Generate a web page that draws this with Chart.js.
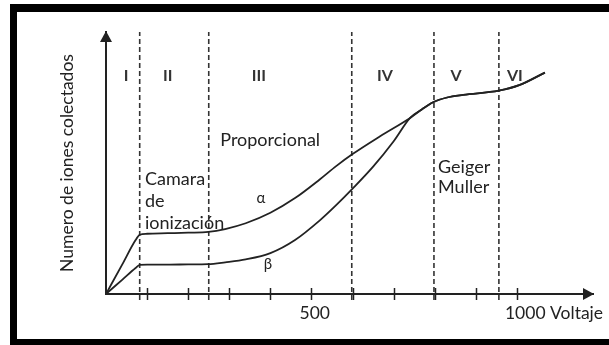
<!DOCTYPE html>
<html>
<head>
<meta charset="utf-8">
<script src="https://cdn.jsdelivr.net/npm/chart.js@4/dist/chart.umd.min.js"></script>
<style>
  html, body { margin: 0; padding: 0; background: #fff; }
  canvas { display: block; }
</style>
</head>
<body>
<canvas id="c" width="609" height="345"></canvas>
<script>
// Voltage (V) and collected-ion counts (relative units) for alpha particles
const alphaVoltage = [0, 40, 72, 82, 100, 150, 200, 249, 290, 340, 400, 460, 520, 560, 600, 667, 740, 770, 796, 830, 869, 956, 1007, 1068];
const alphaIons    = [0, 11.4, 20.6, 22.6, 23.0, 23.2, 23.4, 23.7, 24.8, 27.0, 31.0, 36.6, 43.7, 48.8, 53.4, 60.2, 67.2, 70.6, 73.2, 75.0, 76.0, 77.6, 79.8, 84.5];

// Same for beta particles; both curves merge in the Geiger region
const betaVoltage = [0, 40, 72, 82, 100, 150, 200, 248, 290, 340, 400, 460, 521, 560, 600, 650, 700, 740, 770, 796, 830, 869, 956, 1007, 1068];
const betaIons    = [0, 5.5, 9.9, 11.1, 11.2, 11.2, 11.3, 11.4, 12.1, 13.2, 15.6, 20.6, 28.2, 33.9, 40.2, 48.6, 58.3, 67.2, 70.6, 73.2, 75.0, 76.0, 77.6, 79.8, 84.5];

// Voltages separating the six operating regions
const regionBoundaries = [82, 250, 598, 798, 956];
const regionNames = ['I', 'II', 'III', 'IV', 'V', 'VI'];
const regionNameVoltage = [49, 150, 372, 679, 852, 995];

// Voltage axis ticks and the labels printed under them
const tickValues = [100, 200, 300, 400, 500, 600, 700, 800, 900, 1000];
const tickLabels = { 500: '500', 1000: '1000 Voltaje' };

const INK = '#222';
const FONT = 'Lato, "Open Sans", sans-serif';

const toPoints = (xs, ys) => xs.map((x, i) => ({ x, y: ys[i] }));

const curve = (label, xs, ys) => ({
  label,
  data: toPoints(xs, ys),
  showLine: true,
  borderColor: INK,
  borderWidth: 1.8,
  pointRadius: 0,
  cubicInterpolationMode: 'monotone',
  fill: false
});

const boundary = (v) => ({
  label: 'limite ' + v,
  data: [{ x: v, y: -2.3 }, { x: v, y: 100 }],
  showLine: true,
  borderColor: '#333',
  borderWidth: 1.6,
  borderDash: [5, 3],
  pointRadius: 0,
  clip: false
});

// Black frame around the figure
const framePlugin = {
  id: 'frame',
  beforeDraw(chart) {
    const ctx = chart.ctx;
    ctx.save();
    ctx.fillStyle = '#fff';
    ctx.fillRect(0, 0, chart.width, chart.height);
    ctx.fillStyle = '#000';
    ctx.fillRect(10, 4, chart.width - 10, 8);
    ctx.fillRect(10, 4, 7, chart.height - 4);
    ctx.fillRect(10, 339, chart.width - 10, 6);
    ctx.restore();
  }
};

// Arrow heads on both axes and tick marks crossing the voltage axis
const axisPlugin = {
  id: 'axisDecor',
  afterDraw(chart) {
    const { ctx, chartArea: a, scales: { x } } = chart;
    ctx.save();
    ctx.fillStyle = INK;
    ctx.strokeStyle = INK;
    ctx.lineWidth = 1.5;
    x.ticks.forEach(t => {
      const px = Math.round(x.getPixelForValue(t.value)) + 0.5;
      ctx.beginPath();
      ctx.moveTo(px, a.bottom - 6);
      ctx.lineTo(px, a.bottom + 6);
      ctx.stroke();
    });
    // vertical arrow
    ctx.beginPath();
    ctx.moveTo(a.left, a.top - 1);
    ctx.lineTo(a.left - 6, a.top + 10);
    ctx.lineTo(a.left + 6, a.top + 10);
    ctx.closePath();
    ctx.fill();
    // horizontal arrow
    ctx.beginPath();
    ctx.moveTo(a.right + 1, a.bottom);
    ctx.lineTo(a.right - 10, a.bottom - 6);
    ctx.lineTo(a.right - 10, a.bottom + 6);
    ctx.closePath();
    ctx.fill();
    ctx.restore();
  }
};

// Region numerals and descriptive notes
const notes = [
  { text: 'Proporcional', v: 278, n: 56.5 },
  { text: 'Camara', v: 95, n: 41.6 },
  { text: 'de', v: 95, n: 33.2 },
  { text: 'ionización', v: 95, n: 24.8 },
  { text: 'Geiger', v: 808, n: 46.2 },
  { text: 'Muller', v: 808, n: 38.5 }
];
const greek = [
  { text: 'α', v: 377, n: 36.5 },
  { text: 'β', v: 394, n: 11.5 }
];

const textPlugin = {
  id: 'notes',
  afterDatasetsDraw(chart) {
    const { ctx, scales: { x, y } } = chart;
    ctx.save();
    ctx.fillStyle = '#333';
    ctx.font = 'bold 16px ' + FONT;
    ctx.textAlign = 'center';
    ctx.textBaseline = 'middle';
    regionNames.forEach((name, i) => {
      ctx.fillText(name, x.getPixelForValue(regionNameVoltage[i]), y.getPixelForValue(83.2));
    });
    ctx.fillStyle = INK;
    ctx.font = '18px ' + FONT;
    ctx.textAlign = 'left';
    ctx.textBaseline = 'alphabetic';
    notes.forEach(n => ctx.fillText(n.text, x.getPixelForValue(n.v), y.getPixelForValue(n.n)));
    ctx.font = '15px ' + FONT;
    ctx.textAlign = 'center';
    ctx.textBaseline = 'middle';
    greek.forEach(g => ctx.fillText(g.text, x.getPixelForValue(g.v), y.getPixelForValue(g.n)));
    ctx.restore();
  }
};

new Chart(document.getElementById('c'), {
  type: 'scatter',
  data: {
    datasets: [
      curve('α', alphaVoltage, alphaIons),
      curve('β', betaVoltage, betaIons),
      ...regionBoundaries.map(boundary)
    ]
  },
  options: {
    responsive: false,
    animation: false,
    devicePixelRatio: 1,
    layout: { padding: { top: 32, right: 16, left: 0, bottom: 0 } },
    plugins: { legend: { display: false }, tooltip: { enabled: false } },
    scales: {
      x: {
        type: 'linear',
        min: 0,
        max: 1185,
        grid: { display: false, drawTicks: false },
        border: { display: true, color: INK, width: 2 },
        afterBuildTicks: s => { s.ticks = tickValues.map(v => ({ value: v })); },
        afterFit: s => {
          s.height = 51;
          // the long last label may run past the axis end; keep the plot width fixed
          s.paddingLeft = 0;
          s.paddingRight = 0;
        },
        ticks: {
          autoSkip: false,
          maxRotation: 0,
          align: 'start',
          labelOffset: -12,
          padding: 9,
          color: INK,
          font: { family: FONT, size: 17.5 },
          callback: v => tickLabels[v] || ''
        }
      },
      y: {
        min: 0,
        max: 100,
        grid: { display: false },
        border: { display: true, color: INK, width: 2 },
        ticks: { display: false },
        afterFit: s => { s.width = 106; s.paddingTop = 0; s.paddingBottom = 0; },
        title: {
          display: true,
          text: 'Numero de iones colectados',
          color: INK,
          font: { family: FONT, size: 17.5 },
          padding: { top: 57, bottom: 0 }
        }
      }
    }
  },
  plugins: [framePlugin, axisPlugin, textPlugin]
});
</script>
</body>
</html>
